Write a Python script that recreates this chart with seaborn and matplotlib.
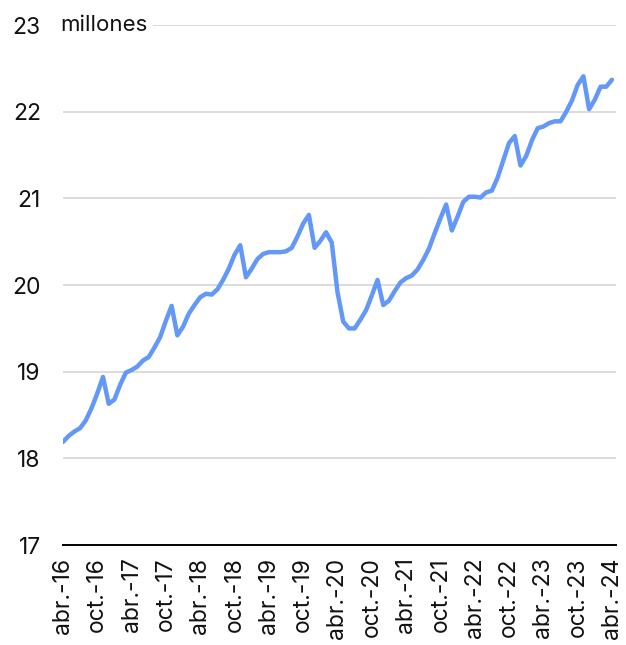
import numpy as np
import pandas as pd
import matplotlib
matplotlib.use("Agg")
import matplotlib.pyplot as plt
import seaborn as sns

# --- datos: millones de puestos, mensual abr-16 .. abr-24 ---
valores = [
    18.19, 18.26, 18.31, 18.35, 18.44, 18.58, 18.75, 18.94, 18.63, 18.68,  # abr-16 .. ene-17
    18.85, 18.99, 19.02, 19.06, 19.13, 19.17, 19.28, 19.40, 19.59, 19.76,  # feb-17 .. nov-17
    19.42, 19.52, 19.67, 19.77, 19.86, 19.90, 19.89, 19.95, 20.06, 20.19,  # dic-17 .. sep-18
    20.35, 20.46, 20.09, 20.19, 20.30, 20.36, 20.38, 20.38, 20.38, 20.39,  # oct-18 .. jul-19
    20.43, 20.56, 20.71, 20.81, 20.43, 20.51, 20.61, 20.49, 19.92, 19.58,  # ago-19 .. may-20
    19.50, 19.50, 19.60, 19.71, 19.88, 20.06, 19.77, 19.82, 19.93, 20.03,  # jun-20 .. mar-21
    20.08, 20.11, 20.18, 20.29, 20.42, 20.60, 20.77, 20.93, 20.63, 20.79,  # abr-21 .. ene-22
    20.96, 21.02, 21.02, 21.01, 21.07, 21.09, 21.24, 21.44, 21.64, 21.72,  # feb-22 .. nov-22
    21.38, 21.49, 21.67, 21.81, 21.83, 21.87, 21.89, 21.89, 22.00, 22.13,  # dic-22 .. sep-23
    22.31, 22.41, 22.03, 22.14, 22.29, 22.29, 22.37,                       # oct-23 .. abr-24
]
meses = np.arange(len(valores))

tick_pos = np.arange(0, 97, 6)
tick_labels = [
    "abr.-16", "oct.-16", "abr.-17", "oct.-17", "abr.-18", "oct.-18",
    "abr.-19", "oct.-19", "abr.-20", "oct.-20", "abr.-21", "oct.-21",
    "abr.-22", "oct.-22", "abr.-23", "oct.-23", "abr.-24",
]

y_ticks = [17, 18, 19, 20, 21, 22, 23]

df = pd.DataFrame({"mes": meses, "valor": valores})

# --- figura ---
sns.set_theme(style="white")
plt.rcParams["font.family"] = ["Inter", "DejaVu Sans"]

fig = plt.figure(figsize=(6.26, 6.45), dpi=100)
ax = fig.add_axes([0.1006, 0.155, 0.8834, 0.806])

sns.lineplot(data=df, x="mes", y="valor", ax=ax, color="#6397F8",
             linewidth=3.2, solid_capstyle="round", solid_joinstyle="round")

ax.set_xlim(0, 96.7)
ax.set_ylim(17, 23)
ax.set_yticks(y_ticks)
ax.set_yticklabels([str(v) for v in y_ticks], fontsize=16.5, color="#111111")
ax.set_xticks(tick_pos)
ax.set_xticklabels(tick_labels, rotation=90, fontsize=16.5, color="#111111")
ax.set_xlabel("")
ax.set_ylabel("")

for v in y_ticks[1:]:
    ax.axhline(v, color="#d9d9d9", linewidth=1.3, zorder=0)

for s in ["top", "right", "left"]:
    ax.spines[s].set_visible(False)
ax.spines["bottom"].set_color("black")
ax.spines["bottom"].set_linewidth(1.4)

ax.tick_params(axis="x", direction="out", length=6, width=1.4, color="black", pad=3)
ax.tick_params(axis="y", length=0, pad=16)
ax.grid(False)

ax.text(-0.5, 23, "millones", fontsize=16, color="#111111", va="center", ha="left",
        bbox=dict(facecolor="white", edgecolor="none", pad=4), zorder=3)

fig.savefig("out.png", dpi=100)
